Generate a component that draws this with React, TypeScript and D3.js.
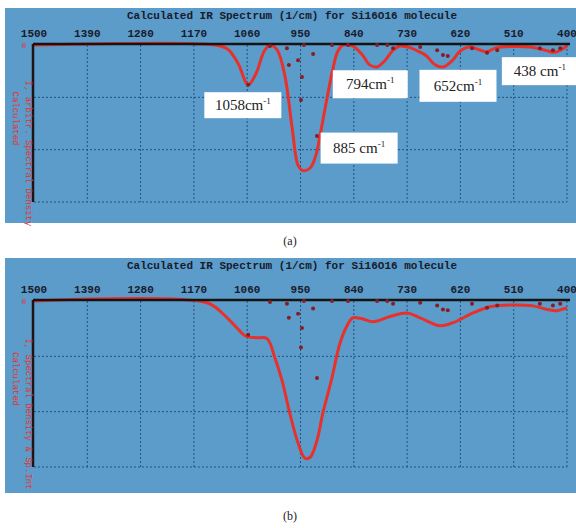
import * as d3 from "d3";

const wavenumberTicks = [1500, 1390, 1280, 1170, 1060, 950, 840, 730, 620, 510, 400];
const chartTitle = "Calculated IR Spectrum (1/cm) for Si16O16 molecule";

// broadened spectrum, panel (a): [wavenumber, absorption depth]
const spectrumA: [number, number][] = [
  [1500, 0], [1126, 0], [1100, 0.08], [1079, 0.35], [1058, 0.76], [1042, 0.55],
  [1025, 0.12], [1013, 0], [998, 0.1], [982, 0.6], [967, 1.6], [955, 2.3],
  [945, 2.4], [930, 2.35], [918, 2.1], [910, 1.75], [897, 1.1], [883, 0.45],
  [873, 0.12], [862, 0], [842, 0.02], [823, 0.18], [807, 0.38], [792, 0.42],
  [776, 0.3], [759, 0.1], [745, 0.02], [724, 0.05], [707, 0.12], [691, 0.2],
  [672, 0.38], [656, 0.42], [637, 0.3], [621, 0.12], [600, 0.04], [579, 0.1],
  [565, 0.13], [548, 0.06], [518, 0.03], [476, 0.04], [445, 0.1], [425, 0.14],
  [410, 0.08], [400, 0.02],
];

// broadened spectrum, panel (b)
const spectrumB: [number, number][] = [
  [1500, 0], [1143, 0.04], [1110, 0.29], [1081, 0.61], [1064, 0.79], [1040, 0.83],
  [1019, 0.85], [1003, 1.28], [988, 1.8], [972, 2.54], [955, 3.21], [941, 3.55],
  [930, 3.53], [916, 3.15], [904, 2.54], [885, 1.73], [869, 0.97], [854, 0.56],
  [842, 0.38], [823, 0.4], [800, 0.47], [765, 0.35], [730, 0.27], [703, 0.38],
  [662, 0.56], [635, 0.49], [594, 0.27], [559, 0.13], [518, 0.09], [470, 0.11],
  [445, 0.18], [421, 0.22], [408, 0.18], [400, 0.16],
];

// stick intensities (dots), same in both panels
const sticks: [number, number][] = [
  [1058, 0.76], [1013, 0.02], [978, 0.06], [974, 0.38], [955, 0.29], [949, 1.05],
  [947, 0.61], [943, 0], [924, 0.17], [916, 1.74], [885, 0], [852, 0], [792, 0],
  [771, 0], [759, 0.06], [703, 0.04], [668, 0.1], [656, 0.19], [646, 0.21],
  [596, 0.06], [565, 0.15], [544, 0.1], [456, 0.06], [429, 0.1], [414, 0.06],
];

const peakLabels = ["1058cm", "885 cm", "794cm", "652cm", "438 cm"];

const BG = "#5b9cca";
const GRID = "#22527e";
const RED = "#e8312b";
const mono = "'Liberation Mono', 'DejaVu Sans Mono', monospace";

type PanelProps = {
  top: number;
  bottom: number;
  plotTop: number;
  plotBottom: number;
  yMax: number;
  data: [number, number][];
  caption: string;
  captionY: number;
  yLabel: string;
  notes?: boolean;
};

const x = d3.scaleLinear().domain([1500, 400]).range([34, 567]);

function Panel({ top, bottom, plotTop, plotBottom, yMax, data, caption, captionY, yLabel, notes }: PanelProps) {
  const y = d3.scaleLinear().domain([0, yMax]).range([plotTop, plotBottom]);
  const line = d3
    .line<[number, number]>()
    .x((d) => x(d[0]))
    .y((d) => y(d[1]))
    .curve(d3.curveCatmullRom.alpha(0.5));
  const hGrid = d3.range(1, 4).map((i) => plotTop + ((plotBottom - plotTop) * i) / 3);
  // label boxes: [wavenumber, depth, width, height]
  const notePos: [number, number, number, number][] = [
    [1069, 1.15, 77, 26],
    [829, 1.97, 77, 31],
    [806, 0.75, 75, 28],
    [625, 0.78, 77, 32],
    [456, 0.5, 76, 28],
  ];
  const midY = (plotTop + plotBottom) / 2;
  return (
    <g>
      <rect x={5} y={top} width={571} height={bottom - top} fill={BG} />
      <text x={292} y={top + 11} textAnchor="middle" fontFamily={mono} fontWeight="bold" fontSize={11} fill="#1a1a2a">
        {chartTitle}
      </text>
      {wavenumberTicks.map((t) => (
        <text key={t} x={x(t)} y={plotTop - 8} textAnchor="middle" fontFamily={mono} fontWeight="bold" fontSize={11} fill="#1a1a2a">
          {t}
        </text>
      ))}
      {wavenumberTicks.slice(1).map((t) => (
        <line key={t} x1={x(t)} x2={x(t)} y1={plotTop} y2={plotBottom} stroke={GRID} strokeWidth={1} strokeDasharray="2,2" />
      ))}
      {hGrid.map((g) => (
        <line key={g} x1={x(1500)} x2={x(400)} y1={g} y2={g} stroke={GRID} strokeWidth={1} strokeDasharray="2,2" />
      ))}
      <path d={line(data) || ""} fill="none" stroke={RED} strokeWidth={3} strokeLinejoin="round" />
      <line x1={x(1500) - 1} x2={x(400) + 3} y1={plotTop - 1} y2={plotTop - 1} stroke="#141414" strokeWidth={2.5} />
      <line x1={x(1500) - 1} x2={x(1500) - 1} y1={plotTop - 1} y2={plotBottom} stroke="#1e1414" strokeWidth={2.5} />
      {sticks.map((s, i) => (
        <circle key={i} cx={x(s[0])} cy={y(s[1])} r={2} fill="#8a1c22" />
      ))}
      <text x={24} y={plotTop + 3} textAnchor="middle" fontFamily={mono} fontSize={8} fill={RED}>0</text>
      <text transform={`translate(13,${midY - 5}) rotate(90)`} textAnchor="middle" fontFamily={mono} fontSize={9} fill={RED}>
        Calculated
      </text>
      <text transform={`translate(26,${midY + 30}) rotate(90)`} textAnchor="middle" fontFamily={mono} fontSize={9} fill={RED}>
        {yLabel}
      </text>
      {notes &&
        notePos.map(([wn, v, w, h], i) => {
          const cx = x(wn);
          const cy = y(v);
          return (
            <g key={i}>
              <rect x={cx - w / 2} y={cy - h / 2} width={w} height={h} fill="#ffffff" />
              <text x={cx} y={cy + 5} textAnchor="middle" fontFamily="'Liberation Serif', serif" fontSize={15} fill="#222">
                {peakLabels[i]}
                <tspan fontSize={9} dy={-6}>-1</tspan>
              </text>
            </g>
          );
        })}
      <text x={290} y={captionY} textAnchor="middle" fontFamily="'Liberation Serif', serif" fontSize={12} fill="#222">
        {caption}
      </text>
    </g>
  );
}

export default function App() {
  return (
    <svg width={576} height={528} style={{ position: "absolute", left: 0, top: 0, background: "#fff" }}>
      <Panel top={8} bottom={223} plotTop={45} plotBottom={202} yMax={3} data={spectrumA} caption="(a)" captionY={245} yLabel="I, arbitr. Spectral Density" notes />
      <Panel top={258} bottom={493} plotTop={301} plotBottom={467} yMax={3.75} data={spectrumB} caption="(b)" captionY={520} yLabel="I, Spectral Density & Sp.Int" />
    </svg>
  );
}
